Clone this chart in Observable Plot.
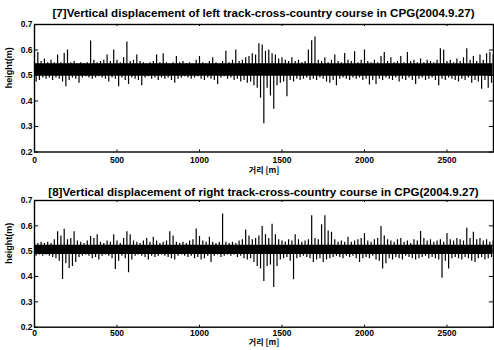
<!DOCTYPE html>
<html><head><meta charset="utf-8">
<script src="https://cdn.jsdelivr.net/npm/d3@7"></script>
<script src="https://cdn.jsdelivr.net/npm/@observablehq/plot@0.6"></script>
<style>
body{margin:0;background:#fff;width:494px;height:350px;overflow:hidden;position:relative;font-family:"Liberation Sans",Arial,sans-serif}
.t{position:absolute;z-index:2;left:34px;width:459px;text-align:center;font-weight:bold;font-size:11.6px;line-height:12px;white-space:nowrap;color:#000}
.p{position:absolute;z-index:1;left:0;top:0}
svg{font-weight:bold}
</style>
</head><body>
<div class="t" id="t1" style="top:7px"></div>
<div class="p" id="p1" style="top:19px"></div>
<div class="t" id="t2" style="top:186px"></div>
<div class="p" id="p2" style="top:196px"></div>
<script>
const titles = [
  "[7]Vertical displacement of left track-cross-country course in CPG(2004.9.27)",
  "[8]Vertical displacement of right track-cross-country course in CPG(2004.9.27)"
];
const xLabel = "거리 [m]";
const yLabel = "height(m)";
const xTicks = [0, 500, 1000, 1500, 2000, 2500];
const yTicks = [0.2, 0.3, 0.4, 0.5, 0.6, 0.7];
const binStep = 20; // metres per sample pair

// dense core band of each signal (lower, upper)
const leftCore = [0.497, 0.546];
const rightCore = [0.487, 0.523];

// Left track: upper and lower excursion per 20 m
const leftHi = [.55,.59,.555,.565,.55,.56,.55,.58,.55,.586,.60,.55,.555,.545,.55,.545,.55,.635,.56,.55,
.555,.56,.58,.555,.60,.56,.55,.57,.631,.555,.56,.58,.555,.55,.545,.55,.555,.58,.55,.585,
.55,.545,.55,.575,.55,.555,.545,.55,.545,.56,.575,.55,.545,.555,.57,.55,.545,.555,.595,.55,
.56,.60,.555,.56,.57,.575,.585,.58,.625,.62,.595,.60,.585,.58,.565,.57,.56,.555,.57,.555,
.56,.55,.555,.60,.636,.651,.56,.555,.57,.55,.56,.58,.555,.55,.586,.56,.555,.593,.55,.56,
.60,.555,.55,.56,.55,.575,.59,.555,.57,.55,.555,.575,.55,.59,.555,.56,.55,.565,.55,.56,
.555,.55,.56,.605,.60,.555,.56,.55,.565,.555,.57,.605,.56,.575,.555,.58,.56,.585,.59,.58];
const leftLo = [.475,.48,.49,.485,.49,.48,.49,.485,.475,.456,.48,.49,.485,.47,.49,.495,.49,.485,.49,.495,
.49,.485,.475,.49,.485,.456,.49,.48,.465,.49,.485,.48,.46,.49,.495,.485,.49,.48,.49,.485,
.49,.48,.47,.485,.49,.495,.49,.485,.49,.495,.485,.48,.49,.485,.48,.465,.49,.495,.485,.49,
.48,.485,.475,.48,.47,.475,.46,.45,.411,.311,.45,.42,.368,.46,.47,.475,.417,.48,.475,.485,
.48,.485,.49,.48,.485,.48,.49,.485,.475,.47,.48,.46,.485,.49,.485,.48,.49,.485,.49,.48,
.485,.463,.48,.465,.485,.48,.49,.485,.48,.49,.475,.485,.48,.49,.48,.465,.485,.49,.48,.485,
.49,.48,.46,.485,.48,.49,.485,.48,.475,.485,.48,.49,.47,.48,.475,.446,.48,.45,.47,.48];

// Right track: upper and lower excursion per 20 m
const rightHi = [.545,.53,.535,.53,.535,.53,.545,.577,.56,.587,.545,.55,.577,.54,.535,.53,.54,.558,.55,.565,
.535,.53,.54,.535,.565,.54,.53,.55,.577,.565,.54,.535,.53,.54,.55,.535,.555,.54,.53,.535,
.54,.577,.56,.535,.53,.535,.53,.54,.545,.588,.558,.54,.535,.555,.535,.53,.535,.647,.535,.53,
.535,.53,.54,.545,.584,.56,.545,.55,.56,.597,.565,.55,.606,.565,.545,.54,.535,.545,.54,.565,
.545,.535,.54,.545,.64,.55,.545,.604,.64,.58,.575,.545,.535,.54,.535,.555,.535,.54,.545,.55,
.57,.54,.535,.545,.55,.597,.56,.545,.54,.535,.545,.55,.535,.54,.53,.545,.54,.578,.55,.54,
.545,.535,.54,.545,.535,.57,.545,.54,.55,.545,.54,.59,.55,.575,.545,.55,.54,.545,.535,.54];
const rightLo = [.48,.485,.48,.485,.48,.475,.47,.46,.388,.45,.432,.44,.455,.475,.48,.485,.48,.47,.475,.465,
.48,.485,.48,.47,.428,.46,.48,.47,.415,.465,.48,.485,.48,.475,.465,.48,.475,.48,.485,.48,
.475,.47,.465,.48,.485,.48,.475,.48,.47,.475,.465,.47,.48,.455,.48,.485,.475,.48,.485,.48,
.485,.475,.48,.47,.465,.47,.455,.44,.43,.38,.44,.445,.357,.44,.465,.47,.475,.46,.387,.47,
.475,.48,.475,.47,.455,.465,.47,.455,.465,.47,.475,.48,.475,.47,.48,.475,.48,.47,.455,.47,
.475,.47,.48,.465,.46,.43,.45,.47,.465,.475,.47,.465,.48,.475,.47,.465,.47,.475,.48,.47,
.475,.47,.465,.393,.46,.43,.47,.475,.47,.465,.475,.47,.46,.455,.47,.475,.465,.47,.475,.48];

function chart(hi, lo, core, o) {
  const bins = hi.map((h, i) => ({x: i * binStep, xl: i * binStep + binStep / 2, hi: h, lo: lo[i]}));
  const xMax = 2782;
  return Plot.plot({
    width: 494, height: o.height,
    marginLeft: 34, marginRight: 1, marginTop: o.mt, marginBottom: o.mb,
    style: {fontSize: "8.5px", fontFamily: "'Liberation Sans', Arial, sans-serif", fontWeight: "bold", color: "#000", background: "transparent"},
    x: {domain: [0, xMax]},
    y: {domain: [0.2, 0.7]},
    marks: [
      Plot.areaY(bins, {x: "x", y1: () => core[0], y2: () => core[1], fill: "#000", clip: true}),
      Plot.ruleX(bins, {x: "x", y1: () => core[1] - 0.005, y2: "hi", stroke: "#000", strokeWidth: 1.2, clip: true}),
      Plot.ruleX(bins, {x: "xl", y1: "lo", y2: () => core[0] + 0.005, stroke: "#000", strokeWidth: 1.2, clip: true}),
      Plot.ruleX(xTicks, {x: d => d, y1: 0.2, y2: 0.208, stroke: "#000"}),
      Plot.ruleX(xTicks, {x: d => d, y1: 0.692, y2: 0.7, stroke: "#000"}),
      Plot.ruleY(yTicks, {y: d => d, x1: 0, x2: 25, stroke: "#000"}),
      Plot.ruleY(yTicks, {y: d => d, x1: xMax - 25, x2: xMax, stroke: "#000"}),
      Plot.frame({stroke: "#000", strokeWidth: 1.4}),
      Plot.axisX(xTicks, {tickSize: 0, tickPadding: o.xpad, tickFormat: d => String(d), label: null, fontSize: 8.5}),
      Plot.axisY(yTicks, {tickSize: 0, tickPadding: 2, tickFormat: d => d.toFixed(1), label: null, fontSize: 8.5}),
      Plot.text([xLabel], {frameAnchor: "bottom", dy: o.xdy, text: d => d, fontSize: 8, fontFamily: "'Noto Sans CJK KR', sans-serif", fontWeight: "bold"}),
      Plot.text([yLabel], {frameAnchor: "left", dx: -25, rotate: -90, text: d => d, fontSize: 9})
    ]
  });
}

document.getElementById("t1").textContent = titles[0];
document.getElementById("t2").textContent = titles[1];
document.getElementById("p1").append(chart(leftHi, leftLo, leftCore, {height: 161, mt: 5, mb: 28.5, xpad: 5, xdy: 20.5}));
document.getElementById("p2").append(chart(rightHi, rightLo, rightCore, {height: 154, mt: 4, mb: 23.3, xpad: 3, xdy: 18}));
</script>
</body></html>
